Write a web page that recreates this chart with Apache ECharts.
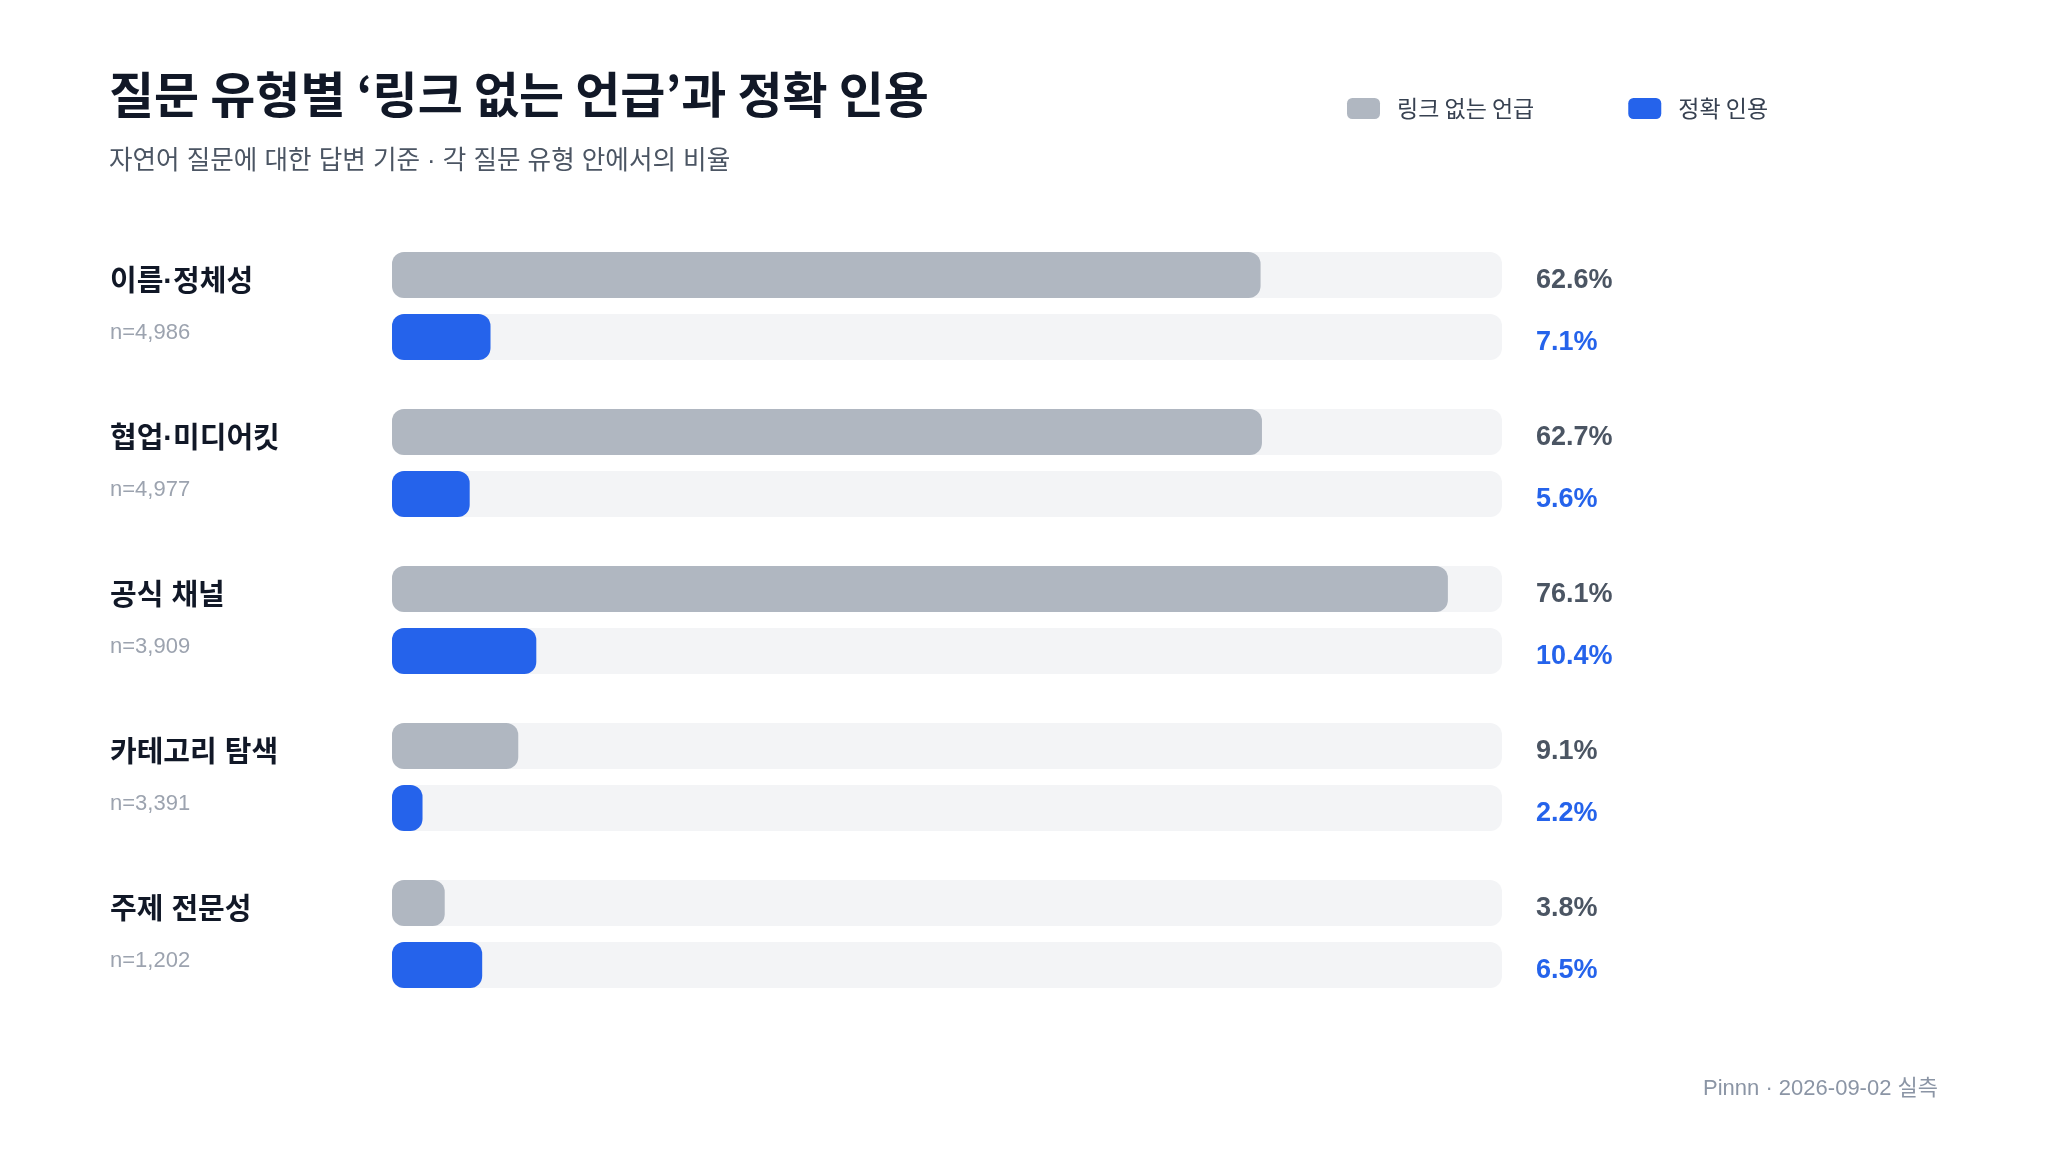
<!DOCTYPE html>
<html><head><meta charset="utf-8">
<script src="https://cdn.jsdelivr.net/npm/echarts@6/dist/echarts.min.js"></script>
<style>html,body{margin:0;padding:0;background:#fff}#c{width:2048px;height:1152px}</style>
</head><body><div id="c"></div>
<script>
const categories = ['이름·정체성', '협업·미디어킷', '공식 채널', '카테고리 탐색', '주제 전문성'];
const sampleSizes = ['4,986', '4,977', '3,909', '3,391', '1,202'];
const noLinkMention = [62.6, 62.7, 76.1, 9.1, 3.8];
const exactCitation = [7.1, 5.6, 10.4, 2.2, 6.5];
const seriesNames = ['링크 없는 언급', '정확 인용'];

const FONT = "'Liberation Sans', 'Noto Sans CJK KR', sans-serif";
const KFONT = "'Noto Sans CJK KR', sans-serif";
const chart = echarts.init(document.getElementById('c'));
chart.setOption({
  backgroundColor: '#ffffff',
  animation: false,
  title: {
    left: 104, top: 64,
    text: '질문 유형별 ‘링크 없는 언급’과 정확 인용',
    subtext: '자연어 질문에 대한 답변 기준 · 각 질문 유형 안에서의 비율',
    itemGap: 29,
    textStyle: { fontFamily: KFONT, fontSize: 49, fontWeight: 'bold', color: '#111827', lineHeight: 50 },
    subtextStyle: { fontFamily: FONT, fontSize: 25.6, color: '#4b5563', lineHeight: 28 }
  },
  legend: {
    left: 1342, top: 92,
    icon: 'roundRect', itemWidth: 33, itemHeight: 21, itemGap: 94,
    data: seriesNames,
    textStyle: { fontFamily: KFONT, fontSize: 23, color: '#374151', padding: [0, 0, 0, 12] }
  },
  grid: { left: 392, right: 546, top: 227.5, height: 785, containLabel: false },
  xAxis: { type: 'value', min: 0, max: 80, show: false },
  yAxis: [
    {
      type: 'category', inverse: true, data: categories, position: 'left',
      axisLine: { show: false }, axisTick: { show: false }, splitLine: { show: false },
      axisLabel: {
        align: 'left', margin: 282,
        formatter: (v, i) => `{name|${v}}\n{n|n=${sampleSizes[i]}}`,
        rich: {
          name: { fontFamily: FONT, fontSize: 29, fontWeight: 'bold', color: '#111827', lineHeight: 54 },
          n: { fontFamily: FONT, fontSize: 22, color: '#9ca3af', lineHeight: 46 }
        }
      }
    },
    {
      type: 'category', inverse: true, data: categories, position: 'right',
      axisLine: { show: false }, axisTick: { show: false }, splitLine: { show: false },
      axisLabel: {
        align: 'left', margin: 34, padding: [12, 0, 0, 0],
        formatter: (v, i) => `{g|${noLinkMention[i].toFixed(1)}%}\n{b|${exactCitation[i].toFixed(1)}%}`,
        rich: {
          g: { fontFamily: FONT, fontSize: 27, fontWeight: 'bold', color: '#4b5563', lineHeight: 62 },
          b: { fontFamily: FONT, fontSize: 27, fontWeight: 'bold', color: '#2563eb', lineHeight: 62 }
        }
      }
    }
  ],
  series: [
    {
      name: seriesNames[0], type: 'bar', yAxisIndex: 0, data: noLinkMention,
      barWidth: 46, barGap: '34.8%',
      itemStyle: { color: '#b0b7c1', borderRadius: 12 },
      showBackground: true, backgroundStyle: { color: '#f3f4f6', borderRadius: 12 }
    },
    {
      name: seriesNames[1], type: 'bar', yAxisIndex: 0, data: exactCitation,
      barWidth: 46, barGap: '34.8%',
      itemStyle: { color: '#2563eb', borderRadius: 12 },
      showBackground: true, backgroundStyle: { color: '#f3f4f6', borderRadius: 12 }
    }
  ],
  graphic: [{
    type: 'text', right: 110, top: 1078,
    style: { text: 'Pinnn · 2026-09-02 실측', fontFamily: FONT, fontSize: 22, fill: '#8b95a5' }
  }]
});
</script></body></html>
